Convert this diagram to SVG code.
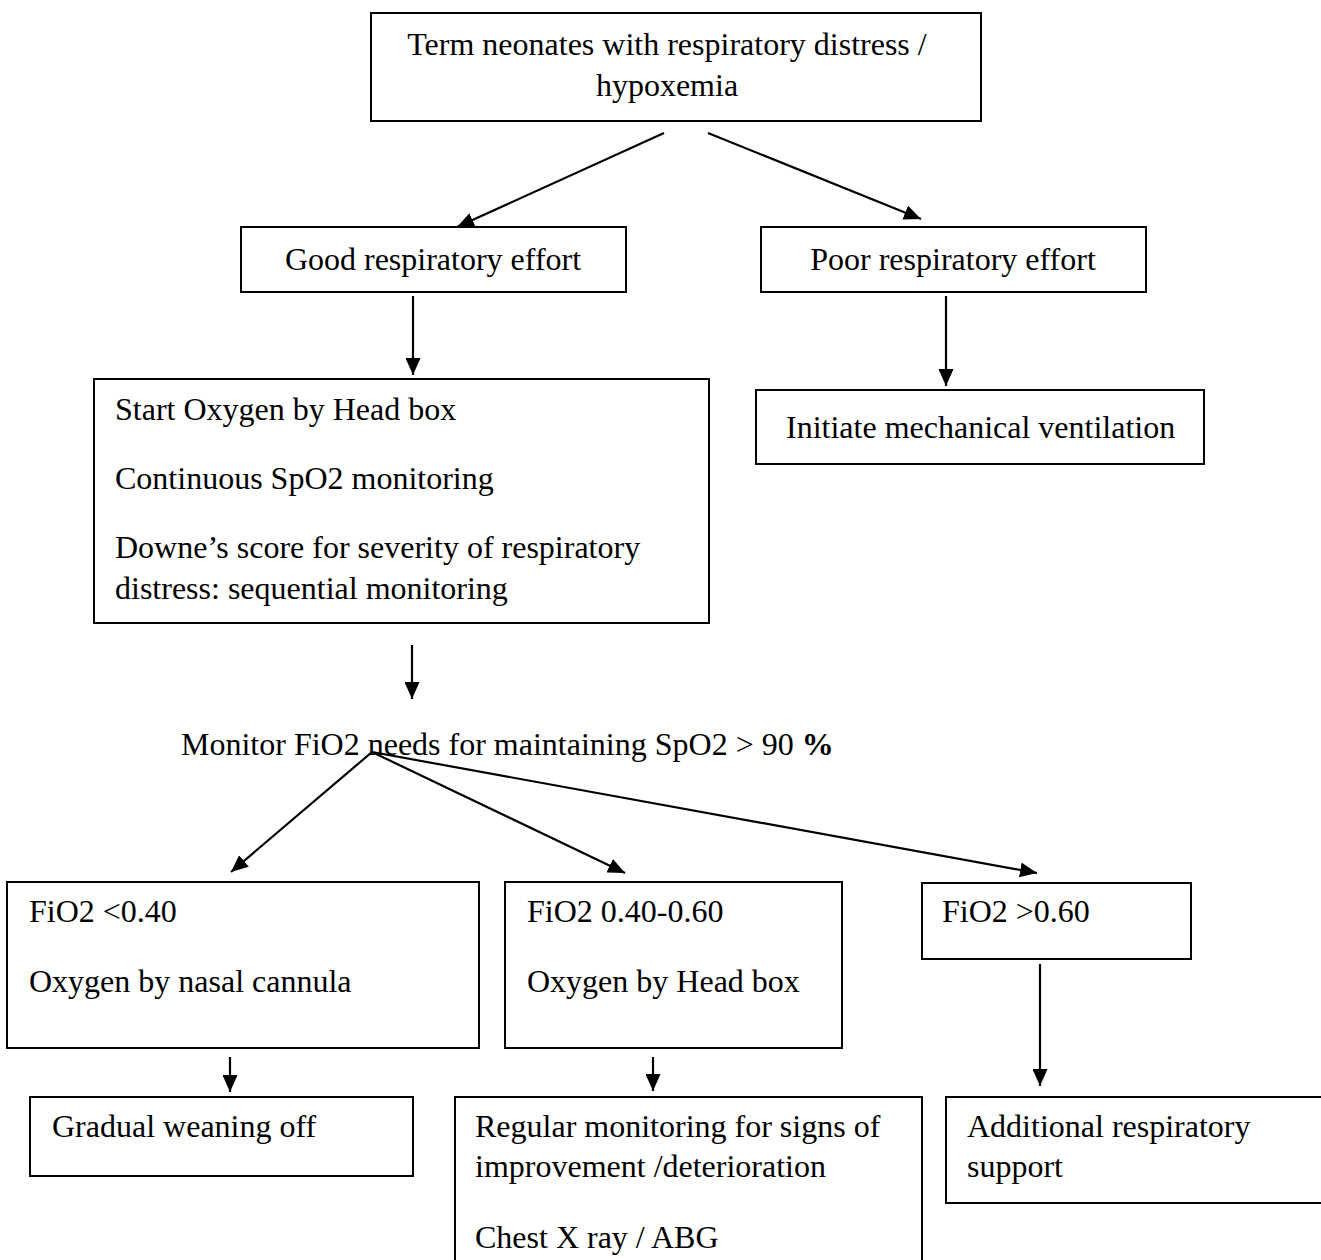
<svg xmlns="http://www.w3.org/2000/svg" width="1321" height="1260" viewBox="0 0 1321 1260">
  <style>
    .box { fill: #ffffff; stroke: #000000; stroke-width: 2; }
    .t { font-family: "Liberation Serif", "Times New Roman", serif; font-size: 32px; fill: #000000; }
    .c { text-anchor: middle; }
    .edge { stroke: #000000; stroke-width: 2.2; fill: none; marker-end: url(#arrow); }
  </style>
  <defs>
    <marker id="arrow" markerUnits="userSpaceOnUse" markerWidth="18" markerHeight="15" refX="17" refY="7.5" orient="auto">
      <path d="M0,0 L17,7.5 L0,15 z" fill="#000000"/>
    </marker>
  </defs>
  <rect width="1321" height="1260" fill="#ffffff"/>

  <!-- connectors -->
  <g id="connectors">
    <line class="edge" x1="664" y1="133" x2="457" y2="227"/>
    <line class="edge" x1="708" y1="133" x2="921" y2="219"/>
    <line class="edge" x1="413" y1="296" x2="413" y2="375"/>
    <line class="edge" x1="946" y1="296" x2="946" y2="386"/>
    <line class="edge" x1="412" y1="645" x2="412" y2="699"/>
    <line class="edge" x1="372" y1="752" x2="231" y2="872"/>
    <line class="edge" x1="372" y1="752" x2="625" y2="873"/>
    <line class="edge" x1="372" y1="752" x2="1037" y2="873"/>
    <line class="edge" x1="230" y1="1057" x2="230" y2="1092"/>
    <line class="edge" x1="653" y1="1057" x2="653" y2="1091"/>
    <line class="edge" x1="1040" y1="964" x2="1040" y2="1086"/>
  </g>

  <!-- nodes -->
  <g id="n-term">
    <rect class="box" x="371" y="13" width="610" height="108"/>
    <text class="t c" x="667" y="55">Term neonates with respiratory distress /</text>
    <text class="t c" x="667" y="96">hypoxemia</text>
  </g>
  <g id="n-good">
    <rect class="box" x="241" y="227" width="385" height="65"/>
    <text class="t c" x="433" y="270">Good respiratory effort</text>
  </g>
  <g id="n-poor">
    <rect class="box" x="761" y="227" width="385" height="65"/>
    <text class="t c" x="953" y="270">Poor respiratory effort</text>
  </g>
  <g id="n-start">
    <rect class="box" x="94" y="379" width="615" height="244"/>
    <text class="t" x="115" y="420">Start Oxygen by Head box</text>
    <text class="t" x="115" y="489">Continuous SpO2 monitoring</text>
    <text class="t" x="115" y="558">Downe’s score for severity of respiratory</text>
    <text class="t" x="115" y="599">distress: sequential monitoring</text>
  </g>
  <g id="n-ventilation">
    <rect class="box" x="756" y="390" width="448" height="74"/>
    <text class="t" x="786" y="438">Initiate mechanical ventilation</text>
  </g>
  <g id="n-monitor">
    <text class="t" x="181" y="755">Monitor FiO2 needs for maintaining SpO2 &gt; 90 <tspan font-weight="bold">%</tspan></text>
  </g>
  <g id="n-low">
    <rect class="box" x="7" y="882" width="472" height="166"/>
    <text class="t" x="29" y="922">FiO2 &lt;0.40</text>
    <text class="t" x="29" y="992">Oxygen by nasal cannula</text>
  </g>
  <g id="n-mid">
    <rect class="box" x="505" y="882" width="337" height="166"/>
    <text class="t" x="527" y="922">FiO2 0.40-0.60</text>
    <text class="t" x="527" y="992">Oxygen by Head box</text>
  </g>
  <g id="n-high">
    <rect class="box" x="922" y="883" width="269" height="76"/>
    <text class="t" x="942" y="922">FiO2 &gt;0.60</text>
  </g>
  <g id="n-wean">
    <rect class="box" x="30" y="1097" width="383" height="79"/>
    <text class="t" x="52" y="1137">Gradual weaning off</text>
  </g>
  <g id="n-regular">
    <rect class="box" x="455" y="1097" width="467" height="170"/>
    <text class="t" x="475" y="1137">Regular monitoring for signs of</text>
    <text class="t" x="475" y="1177">improvement /deterioration</text>
    <text class="t" x="475" y="1248">Chest X ray / ABG</text>
  </g>
  <g id="n-support">
    <rect class="box" x="946" y="1097" width="380" height="106"/>
    <text class="t" x="967" y="1137">Additional respiratory</text>
    <text class="t" x="967" y="1177">support</text>
  </g>
</svg>
